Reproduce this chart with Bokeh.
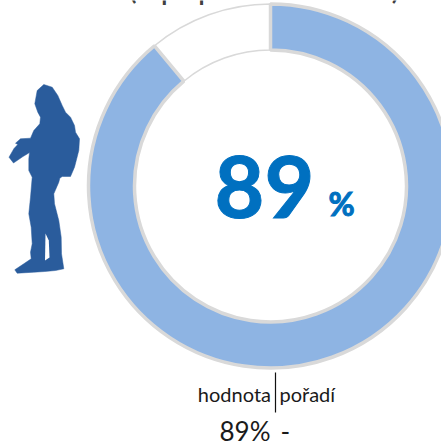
from bokeh.plotting import figure
from bokeh.embed import file_html
from bokeh.resources import INLINE
from bokeh.core.properties import value
from bokeh.models import Range1d
import math

shares = [89, 11]
fills = ["#8EB4E3", "#FFFFFF"]
border = [3.5, 1.5]
main_value = "89"
main_unit = "%"
col_labels = ["hodnota", "pořadí"]
col_values = ["89%", "-"]
top_text = "(v populaci celkem)"

# silhouette outline, traced in picture pixels
fig_x = [43.3,51.7,57.3,61.7,65,70,74,75,79,78.3,74,70,61.7,59.3,58.3,53.3,54,58.3,60.7,61,63.3,55,44.3,33.3,16.7,14.3,23.3,30.7,30,31.7,30.7,28.3,30,31.7,28.3,28.3,29,26.7,22.5,13,8.5,13.5,17.3,15,20,30,33.3,39.3,40,37.3,34.3,36.7]
fig_y = [84,86.7,95,105,111.7,116.7,125,131.7,138.3,150,166.7,176,176,177.7,181.7,193.3,203.3,220,236.7,253.3,268.3,270,271,271.7,272.7,269.3,263.3,258.3,251.7,243.3,226.7,213.3,196.7,176.7,170,158.3,152,153.5,156,162.5,156.7,148,144,142.7,138.3,137.7,130,123.3,116.7,111.7,103.3,90]
gap_x = [44.5,49,48.3,45]
gap_y = [260,257,240,233]

p = figure(width=441, height=441, output_backend="svg", toolbar_location=None,
           x_range=Range1d(0, 441), y_range=Range1d(441, 0),
           min_border=0, outline_line_color=None, background_fill_color="white")
p.axis.visible = False
p.grid.visible = False

cx, cy, r_out, r_in = 270, 185.5, 182, 136

angles = []
acc = 0.0
for s in shares:
    angles.append((acc, acc + s))
    acc += s
for i in [1, 0]:
    a0, a1 = angles[i]
    t0 = math.pi / 2 - a0 / acc * 2 * math.pi
    t1 = math.pi / 2 - a1 / acc * 2 * math.pi
    p.annular_wedge(x=[cx], y=[cy], inner_radius=r_in, outer_radius=r_out,
                    start_angle=t0, end_angle=t1, direction="clock",
                    fill_color=fills[i], line_color="#D9D9D9", line_width=border[i])

p.patch(fig_x, fig_y, fill_color="#2A5C9C", line_color="#2A5C9C", line_width=0.5)
p.patch(gap_x, gap_y, fill_color="white", line_color=None)

def label(x, base, txt, size, align="center", color="#1a1a1a", bold=False, outline=None):
    p.text(x=[x], y=[base - 0.36 * size], text=[txt], text_font=value("Lato"),
           text_font_style="bold" if bold else "normal", text_font_size=f"{size}px",
           text_color=color, text_align=align, text_baseline="alphabetic",
           text_outline_color=outline)

label(264, 217, main_value, 86, color="#0070C0", bold=True, outline="#0070C0")
label(341, 215, main_unit, 32, color="#0070C0", bold=True, outline="#0070C0")
label(270.5, 401, col_labels[0], 20, align="right")
label(279, 401, col_labels[1], 20, align="left")
p.segment(x0=[275], y0=[372], x1=[275], y1=[412], line_color="#111111", line_width=1.2)
label(270, 440, col_values[0], 26, align="right")
label(280, 440, col_values[1], 26, align="left")
label(264, -3, top_text, 33, color="#404040")

html = file_html(p, INLINE).replace("<body>", '<body style="margin:0;overflow:hidden">')
open("out.html", "w").write(html)
